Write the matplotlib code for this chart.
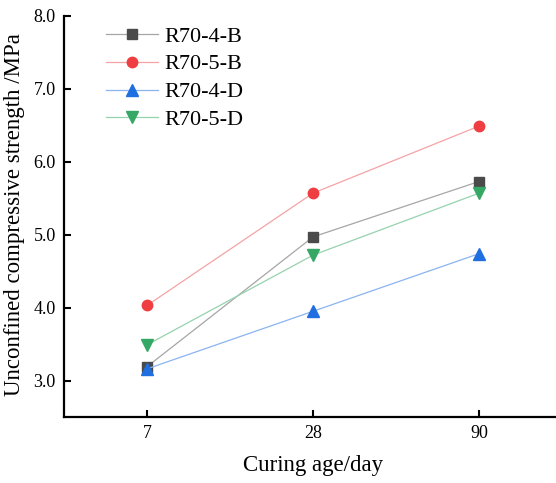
import matplotlib
matplotlib.use("Agg")
import matplotlib.pyplot as plt

plt.rcParams['font.family'] = ['Liberation Serif', 'DejaVu Serif']

ages = ["7", "28", "90"]
r70_4_b = [3.19, 4.97, 5.73]
r70_5_b = [4.03, 5.57, 6.49]
r70_4_d = [3.16, 3.95, 4.74]
r70_5_d = [3.49, 4.72, 5.57]

# name, data, marker, marker size, marker colour, line colour
series = [
    ("R70-4-B", r70_4_b, "s", 6.5, "#4a4a4a", "#a6a6a6"),
    ("R70-5-B", r70_5_b, "o", 7.5, "#ef3e42", "#f4a3a5"),
    ("R70-4-D", r70_4_d, "^", 8.5, "#1f6fe0", "#8ab4f0"),
    ("R70-5-D", r70_5_d, "v", 8.5, "#35a866", "#95d2ae"),
]

fig = plt.figure(figsize=(5.56, 4.83), dpi=100)
ax = fig.add_axes([64 / 556, 1 - 417 / 483, 498 / 556, 401 / 483])

x = list(range(len(ages)))
for name, vals, mk, ms, mc, lc in series:
    ax.plot(x, vals, color=lc, lw=0.9, marker=mk, markersize=ms,
            markerfacecolor=mc, markeredgecolor=mc, label=name)

ax.set_xlim(-0.5, 2.5)
ax.set_ylim(2.5, 8.0)
ax.set_xticks(x)
ax.set_xticklabels(ages)
yt = [3.0, 4.0, 5.0, 6.0, 7.0, 8.0]
ax.set_yticks(yt)
ax.set_yticklabels([f"{v:.1f}" for v in yt])

for s in ["top", "right"]:
    ax.spines[s].set_visible(False)
for s in ["left", "bottom"]:
    ax.spines[s].set_linewidth(1.6)
ax.tick_params(direction="in", length=5, width=1.5, labelsize=13)
ax.tick_params(axis="y", pad=6)
ax.tick_params(axis="x", pad=6)

ax.set_xlabel("Curing age/day", fontsize=16.5)
ax.set_ylabel("Unconfined compressive strength /MPa", fontsize=16.5)
ax.xaxis.set_label_coords(0.5, -0.095)
ax.yaxis.set_label_coords(-0.078, 0.505)

ax.legend(loc="upper left", bbox_to_anchor=(0.044, 1.025), frameon=False,
          fontsize=16, handlelength=2.35, handletextpad=0.3, labelspacing=0.33)

fig.savefig("out.png", dpi=100)
